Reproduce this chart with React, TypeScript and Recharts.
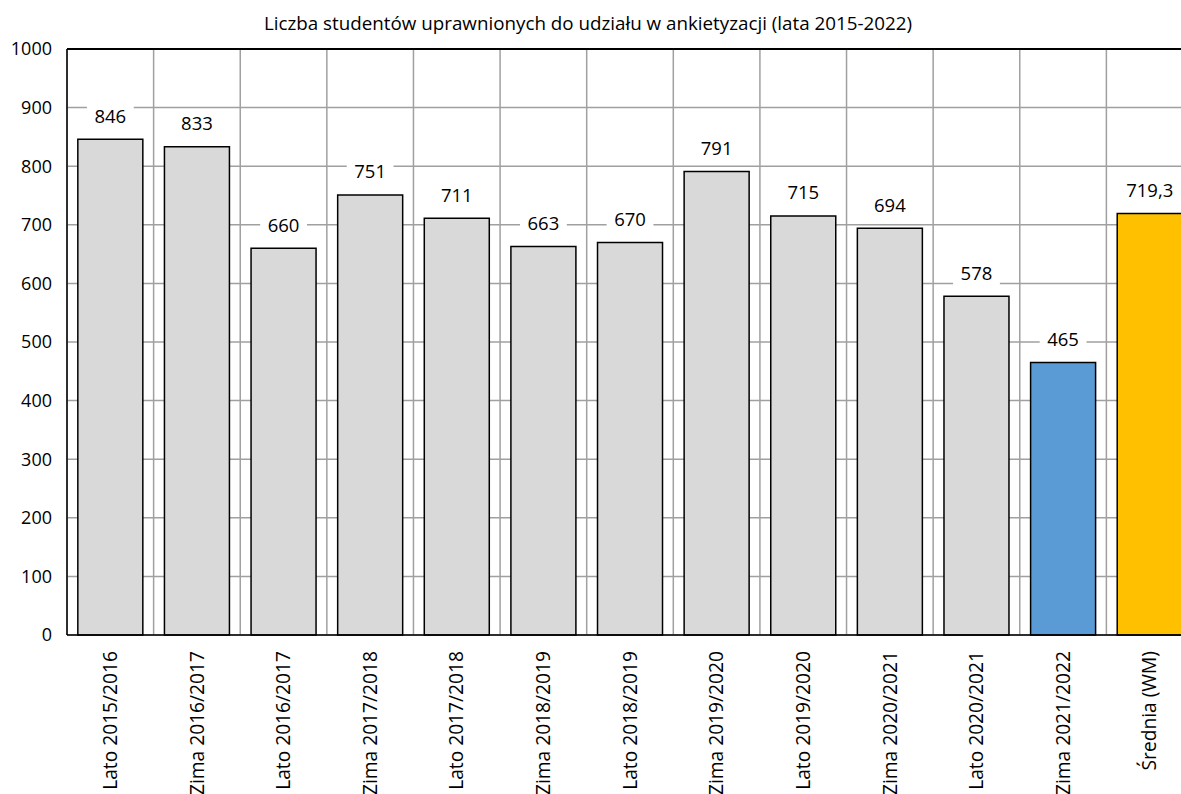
import React from "react";
import {
  BarChart,
  Bar,
  XAxis,
  YAxis,
  CartesianGrid,
  Cell,
  LabelList,
  ReferenceLine,
} from "recharts";

const categories = [
  "Lato 2015/2016",
  "Zima 2016/2017",
  "Lato 2016/2017",
  "Zima 2017/2018",
  "Lato 2017/2018",
  "Zima 2018/2019",
  "Lato 2018/2019",
  "Zima 2019/2020",
  "Lato 2019/2020",
  "Zima 2020/2021",
  "Lato 2020/2021",
  "Zima 2021/2022",
  "Średnia (WM)",
];
const values = [846, 833, 660, 751, 711, 663, 670, 791, 715, 694, 578, 465, 719.3];
const barColors = [
  "#d9d9d9", "#d9d9d9", "#d9d9d9", "#d9d9d9", "#d9d9d9", "#d9d9d9", "#d9d9d9",
  "#d9d9d9", "#d9d9d9", "#d9d9d9", "#d9d9d9", "#5b9bd5", "#ffc000",
];
const yTicks = [0, 100, 200, 300, 400, 500, 600, 700, 800, 900, 1000];
const title = "Liczba studentów uprawnionych do udziału w ankietyzacji (lata 2015-2022)";

const data = categories.map((c, i) => ({ name: c, value: values[i] }));

const FONT = "'Open Sans', sans-serif";

const fmt = (v: number) => (Number.isInteger(v) ? String(v) : String(v).replace(".", ","));

const DataLabel = (props: any) => {
  const { x, y, width, value } = props;
  const cx = x + width / 2;
  const cy = y - 23;
  const s = fmt(value);
  const w = s.length * 10.6 + 15;
  return (
    <g>
      <rect x={cx - w / 2} y={cy - 13} width={w} height={26} fill="#ffffff" />
      <text
        x={cx}
        y={cy}
        dy="0.35em"
        textAnchor="middle"
        fontFamily={FONT}
        fontSize={18.5}
        fill="#000"
      >
        {s}
      </text>
    </g>
  );
};

const XTick = (props: any) => {
  const { x, y, payload } = props;
  return (
    <text
      x={x}
      y={y}
      dy="0.35em"
      textAnchor="end"
      transform={`rotate(-90, ${x}, ${y})`}
      fontFamily={FONT}
      fontSize={19.2}
      fill="#000"
    >
      {payload.value}
    </text>
  );
};

const verticalGen = ({ offset }: any) =>
  categories.map((_, i) => offset.left + (offset.width * i) / categories.length).concat(
    offset.left + offset.width
  );

export default function App() {
  return (
    <div
      style={{
        position: "absolute",
        left: 0,
        top: 0,
        width: 1181,
        height: 794,
        overflow: "hidden",
        background: "#fff",
      }}
    >
      <div
        style={{
          position: "absolute",
          left: 0,
          top: 11,
          width: 1176,
          textAlign: "center",
          fontFamily: FONT,
          fontSize: 18.8,
          lineHeight: "24px",
          color: "#000",
        }}
      >
        {title}
      </div>
      <div style={{ position: "absolute", left: 0, top: 0 }}>
        <BarChart
          width={1193}
          height={820}
          data={data}
          margin={{ top: 49, right: 0, bottom: 0, left: 0 }}
          barCategoryGap="12.5%"
        >
          <CartesianGrid
            stroke="#a0a0a0"
            strokeWidth={1.5}
            vertical
            horizontal
            verticalCoordinatesGenerator={verticalGen}
          />
          <XAxis
            dataKey="name"
            interval={0}
            height={185}
            tickLine={false}
            tickSize={6}
            tickMargin={10}
            axisLine={{ stroke: "#000", strokeWidth: 1.5 }}
            tick={<XTick />}
          />
          <YAxis
            width={67}
            domain={[0, 1000]}
            ticks={yTicks}
            interval={0}
            tickLine={false}
            tickSize={6}
            tickMargin={9}
            axisLine={{ stroke: "#000", strokeWidth: 1.5 }}
            tick={{ fill: "#000", fontSize: 18, fontFamily: FONT }}
          />
          <ReferenceLine y={1000} stroke="#000" strokeWidth={2} />
          <Bar
            dataKey="value"
            stroke="#000"
            strokeWidth={1.5}
            isAnimationActive={false}
          >
            {data.map((d, i) => (
              <Cell key={i} fill={barColors[i]} />
            ))}
            <LabelList dataKey="value" content={<DataLabel />} />
          </Bar>
        </BarChart>
      </div>
    </div>
  );
}
